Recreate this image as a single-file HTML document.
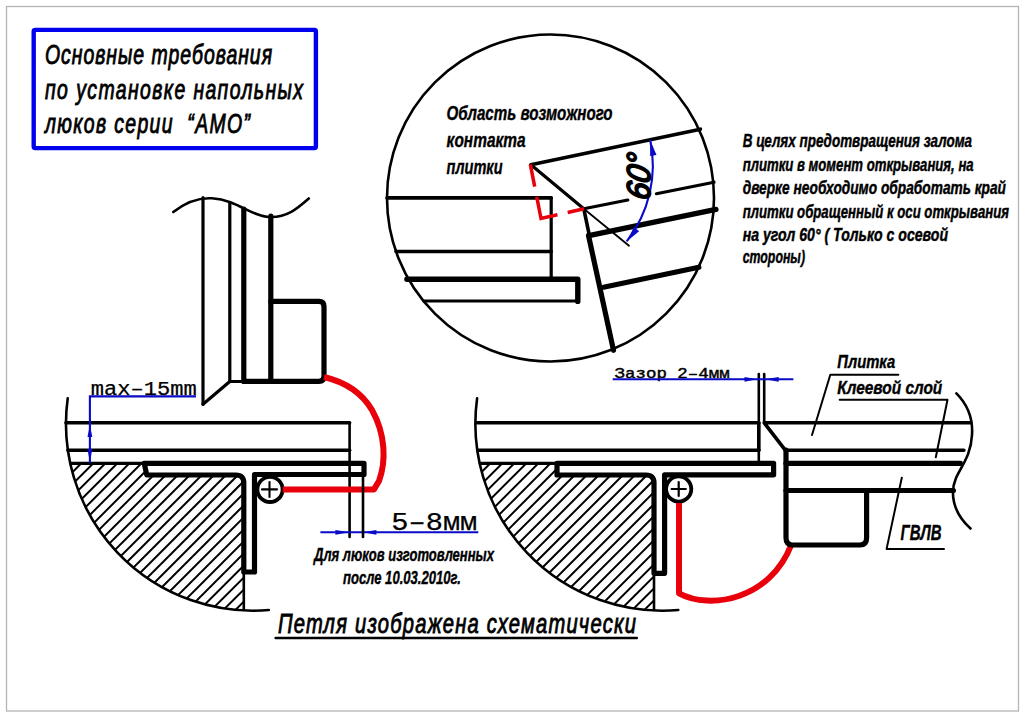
<!DOCTYPE html>
<html><head><meta charset="utf-8">
<style>
html,body{margin:0;padding:0;background:#fff;width:1024px;height:717px;overflow:hidden}
svg{display:block}
text{font-family:"Liberation Sans",sans-serif}
.k{stroke:#000;fill:none;stroke-linecap:round;stroke-linejoin:round}
.it{font-style:italic}
.b{font-weight:bold}
</style></head><body>
<svg width="1024" height="717" viewBox="0 0 1024 717">
<defs>
<clipPath id="cL"><circle cx="253" cy="423.7" r="187"/></clipPath>
<clipPath id="cL2"><path d="M40,463.3 H146.8 V475 H236 Q243.8,475 243.8,483 V640 H40 Z"/></clipPath>
<clipPath id="cR"><circle cx="662.4" cy="423.7" r="187"/></clipPath>
<clipPath id="cR2"><path d="M448,463.3 H557 V475 H646 Q654,475 654,483 V640 H448 Z"/></clipPath>
</defs>
<rect x="0" y="0" width="1024" height="717" fill="#fff"/>
<rect x="6.5" y="6.5" width="1012" height="704.5" fill="none" stroke="#b4b4b4" stroke-width="1.3"/>

<rect x="33.7" y="29.9" width="282.2" height="118.2" rx="1.5" fill="none" stroke="#0000ee" stroke-width="4.4"/>
<text class="it" transform="translate(45,63.6) scale(0.72,1)" font-size="27" stroke="#000" stroke-width="0.9" textLength="315.3" lengthAdjust="spacing" >Основные требования</text>
<text class="it" transform="translate(45,99.2) scale(0.72,1)" font-size="27" stroke="#000" stroke-width="0.9" textLength="358.3" lengthAdjust="spacing" >по установке напольных</text>
<text class="it" transform="translate(45,133.2) scale(0.72,1)" font-size="27" stroke="#000" stroke-width="0.9" textLength="284.7" lengthAdjust="spacing" >люков серии&#160; “АМО”</text>
<circle cx="550.5" cy="198" r="163.5" fill="none" stroke="#000" stroke-width="2.6"/>
<line class="k" stroke-width="3.6" x1="387" y1="197.9" x2="551.2" y2="197.9"/>
<line class="k" stroke-width="3.2" x1="551.2" y1="197.9" x2="551.2" y2="279"/>
<line class="k" stroke-width="3.6" x1="396" y1="251.5" x2="551.2" y2="251.5"/>
<path class="k" stroke-width="5.4" d="M406.9,279.3 H577.8 V301.4" />
<line class="k" stroke-width="3.2" x1="424" y1="301" x2="577.8" y2="301"/>
<line class="k" stroke-width="3.6" x1="530.9" y1="164.8" x2="700.4" y2="129.2"/>
<line class="k" stroke-width="3.2" x1="530.9" y1="164.8" x2="583.8" y2="208.8"/>
<path class="k" stroke-width="3.2" d="M583.8,208.8 L627.8,200 M656.4,193.7 L714,182.2" />
<line class="k" stroke-width="1.8" x1="583.8" y1="208.8" x2="629" y2="245.7"/>
<line class="k" stroke-width="3.6" x1="583.8" y1="208.8" x2="589.3" y2="235.2"/>
<line class="k" stroke-width="5.2" x1="588.5" y1="235.5" x2="613.5" y2="350.3"/>
<line class="k" stroke-width="5.2" x1="588.8" y1="235.6" x2="716" y2="209.4"/>
<line class="k" stroke-width="5.2" x1="603.5" y1="287.2" x2="698.8" y2="267.2"/>
<path fill="none" stroke="#e8000a" stroke-width="3.5" stroke-dasharray="22.8 10.4 38.9 10.5 17 100" d="M530.3,164.3 L541,218.5 L584,208.7"/>
<path fill="none" stroke="#0a0ac8" stroke-width="2.1" d="M650.2,140 A123.5,123.5 0 0 1 626.7,241.4"/>
<path fill="#0a0ac8" d="M650.2,140.0L656.5,154.9L650.1,156.1Z M626.7,241.4L633.9,227.0L639.1,231.2Z"/>
<text class="it" font-size="33" stroke="#000" stroke-width="1.9" transform="translate(649.5,201) rotate(-90) skewX(-10) scale(0.92,1)">60°</text>
<g class="it b" font-size="21" stroke="#000" stroke-width="0.4">
<text x="446.6" y="120.3" textLength="166" lengthAdjust="spacingAndGlyphs">Область возможного</text>
<text x="446.6" y="147" textLength="79" lengthAdjust="spacingAndGlyphs">контакта</text>
<text x="446.6" y="174" textLength="56" lengthAdjust="spacingAndGlyphs">плитки</text>
</g>
<g class="it b" font-size="18.3" stroke="#000" stroke-width="0.45">
<text x="742.7" y="146.9" textLength="229.4" lengthAdjust="spacingAndGlyphs">В целях предотвращения залома</text>
<text x="742.7" y="171" textLength="231" lengthAdjust="spacingAndGlyphs">плитки в момент открывания, на</text>
<text x="742.7" y="194.2" textLength="263.3" lengthAdjust="spacingAndGlyphs">дверке необходимо обработать край</text>
<text x="742.7" y="217.7" textLength="266.3" lengthAdjust="spacingAndGlyphs">плитки обращенный к оси открывания</text>
<text x="742.7" y="241.2" textLength="205.3" lengthAdjust="spacingAndGlyphs">на угол 60° ( Только с осевой</text>
<text x="742.7" y="263" textLength="62.3" lengthAdjust="spacingAndGlyphs">стороны)</text>
</g>

<path class="k" stroke-width="2.6" d="M173.3,212 C188,200.5 200,197.5 212,198.3 C238,200 250,216 269,217 C287,218 298,208 308.8,198.5" />
<line class="k" stroke-width="3.2" x1="203" y1="197.6" x2="203" y2="404.3"/>
<line class="k" stroke-width="3.2" x1="229.8" y1="202.5" x2="229.8" y2="381.5"/>
<line class="k" stroke-width="5.2" x1="243.8" y1="209" x2="243.8" y2="381.5"/>
<line class="k" stroke-width="5.2" x1="270.8" y1="216" x2="270.8" y2="381.3"/>
<path class="k" stroke-width="5.2" d="M270.8,301.4 H319 Q324,301.4 324,306.4 V376.3 Q324,381.3 319,381.3 H243.8" />
<path class="k" stroke-width="3.2" d="M243.8,381.5 H229.8 L203,404.3" />
<line class="k" stroke-width="3.6" x1="66" y1="422.7" x2="349.6" y2="422.7"/>
<line class="k" stroke-width="3.6" x1="68" y1="450.2" x2="349.6" y2="450.2"/>
<line class="k" stroke-width="2.6" x1="349.6" y1="422.7" x2="349.6" y2="537"/>
<line class="k" stroke-width="3.2" x1="71" y1="463.3" x2="147" y2="463.3"/>
<g clip-path="url(#cL)"><g clip-path="url(#cL2)"><g class="k" stroke-width="2.0"><path d="M40.0,-217.2L260.0,-437.2M40.0,-205.2L260.0,-425.2M40.0,-193.1L260.0,-413.1M40.0,-181.1L260.0,-401.1M40.0,-169.1L260.0,-389.1M40.0,-157.0L260.0,-377.0M40.0,-145.0L260.0,-365.0M40.0,-133.0L260.0,-353.0M40.0,-121.0L260.0,-341.0M40.0,-108.9L260.0,-328.9M40.0,-96.9L260.0,-316.9M40.0,-84.9L260.0,-304.9M40.0,-72.8L260.0,-292.8M40.0,-60.8L260.0,-280.8M40.0,-48.8L260.0,-268.8M40.0,-36.8L260.0,-256.8M40.0,-24.7L260.0,-244.7M40.0,-12.7L260.0,-232.7M40.0,-0.7L260.0,-220.7M40.0,11.4L260.0,-208.6M40.0,23.4L260.0,-196.6M40.0,35.4L260.0,-184.6M40.0,47.5L260.0,-172.5M40.0,59.5L260.0,-160.5M40.0,71.5L260.0,-148.5M40.0,83.6L260.0,-136.4M40.0,95.6L260.0,-124.4M40.0,107.6L260.0,-112.4M40.0,119.6L260.0,-100.4M40.0,131.7L260.0,-88.3M40.0,143.7L260.0,-76.3M40.0,155.7L260.0,-64.3M40.0,167.8L260.0,-52.2M40.0,179.8L260.0,-40.2M40.0,191.8L260.0,-28.2M40.0,203.9L260.0,-16.1M40.0,215.9L260.0,-4.1M40.0,227.9L260.0,7.9M40.0,239.9L260.0,19.9M40.0,252.0L260.0,32.0M40.0,264.0L260.0,44.0M40.0,276.0L260.0,56.0M40.0,288.1L260.0,68.1M40.0,300.1L260.0,80.1M40.0,312.1L260.0,92.1M40.0,324.2L260.0,104.2M40.0,336.2L260.0,116.2M40.0,348.2L260.0,128.2M40.0,360.2L260.0,140.2M40.0,372.3L260.0,152.3M40.0,384.3L260.0,164.3M40.0,396.3L260.0,176.3M40.0,408.4L260.0,188.4M40.0,420.4L260.0,200.4M40.0,432.4L260.0,212.4M40.0,444.5L260.0,224.5M40.0,456.5L260.0,236.5M40.0,468.5L260.0,248.5M40.0,480.5L260.0,260.5M40.0,492.6L260.0,272.6M40.0,504.6L260.0,284.6M40.0,516.6L260.0,296.6M40.0,528.7L260.0,308.7M40.0,540.7L260.0,320.7M40.0,552.7L260.0,332.7M40.0,564.8L260.0,344.8M40.0,576.8L260.0,356.8M40.0,588.8L260.0,368.8M40.0,600.8L260.0,380.8M40.0,612.9L260.0,392.9M40.0,624.9L260.0,404.9M40.0,636.9L260.0,416.9M40.0,649.0L260.0,429.0M40.0,661.0L260.0,441.0M40.0,673.0L260.0,453.0M40.0,685.0L260.0,465.0M40.0,697.1L260.0,477.1M40.0,709.1L260.0,489.1M40.0,721.1L260.0,501.1M40.0,733.2L260.0,513.2M40.0,745.2L260.0,525.2M40.0,757.2L260.0,537.2M40.0,769.3L260.0,549.3M40.0,781.3L260.0,561.3M40.0,793.3L260.0,573.3M40.0,805.4L260.0,585.4M40.0,817.4L260.0,597.4M40.0,829.4L260.0,609.4M40.0,841.4L260.0,621.4M40.0,853.5L260.0,633.5M40.0,865.5L260.0,645.5M40.0,877.5L260.0,657.5M40.0,889.6L260.0,669.6M40.0,901.6L260.0,681.6M40.0,913.6L260.0,693.6M40.0,925.6L260.0,705.6M40.0,937.7L260.0,717.7M40.0,949.7L260.0,729.7M40.0,961.7L260.0,741.7M40.0,973.8L260.0,753.8M40.0,985.8L260.0,765.8M40.0,997.8L260.0,777.8M40.0,1009.9L260.0,789.9M40.0,1021.9L260.0,801.9M40.0,1033.9L260.0,813.9M40.0,1046.0L260.0,826.0M40.0,1058.0L260.0,838.0M40.0,1070.0L260.0,850.0M40.0,1082.0L260.0,862.0M40.0,1094.1L260.0,874.1M40.0,1106.1L260.0,886.1M40.0,1118.1L260.0,898.1M40.0,1130.2L260.0,910.2M40.0,1142.2L260.0,922.2M40.0,1154.2L260.0,934.2M40.0,1166.2L260.0,946.2M40.0,1178.3L260.0,958.3M40.0,1190.3L260.0,970.3M40.0,1202.3L260.0,982.3M40.0,1214.4L260.0,994.4"/></g></g></g>
<path class="k" stroke-width="2.6" d="M67.7,398.4 A187,187 0 0 0 268.9,610" />
<line class="k" stroke-width="2.6" x1="243.8" y1="572" x2="243.8" y2="609"/>
<path class="k" stroke-width="5.2" d="M144.2,463.3 H364 V474.5 H254.5 V572 H243.8 V483 Q243.8,475 235.8,475 H146.8 Z" />
<circle cx="270" cy="489.4" r="12.6" fill="#fff" stroke="#000" stroke-width="3.8"/>
<path class="k" stroke-width="2.1" d="M262,489.4 H277 M269.5,482 V497" />
<path fill="none" stroke="#e8000a" stroke-width="6.0" stroke-linejoin="round" d="M282.7,489.4 H374 L379,481 C386,462 386,435 372,410 C362,393 345,382 324,377"/>
<text x="90.8" y="394.9" style="font-family:&quot;Liberation Mono&quot;,monospace" font-size="20" stroke="#000" stroke-width="0.25" textLength="106" lengthAdjust="spacingAndGlyphs">max–15mm</text>
<path fill="none" stroke="#0a0ac8" stroke-width="2.1" d="M196,396.4 H89.9 V463"/>
<path fill="#0a0ac8" d="M89.9,424.5L92.3,437.0L87.5,437.0Z M89.9,462.5L87.5,449.0L92.3,449.0Z"/>
<path fill="none" stroke="#0a0ac8" stroke-width="2.1" d="M320.4,532.3 H478.3"/>
<path fill="#0a0ac8" d="M349.6,532.3L335.4,534.7L335.4,529.9Z M363.0,532.3L376.4,529.9L376.4,534.7Z"/>
<line class="k" stroke-width="2.6" x1="363" y1="474.5" x2="363" y2="537"/>
<text x="391.3" y="530" style="font-family:&quot;Liberation Mono&quot;,monospace" font-size="25" stroke="#000" stroke-width="0.25" textLength="86" lengthAdjust="spacingAndGlyphs">5–8мм</text>
<g class="it b" font-size="17.8" stroke="#000" stroke-width="0.4">
<text x="314" y="561.2" textLength="180" lengthAdjust="spacingAndGlyphs">Для люков изготовленных</text>
<text x="343" y="583.8" textLength="118" lengthAdjust="spacingAndGlyphs">после 10.03.2010г.</text>
</g>
<line class="k" stroke-width="3.6" x1="477" y1="422.8" x2="758.8" y2="422.8"/>
<line class="k" stroke-width="3.6" x1="478" y1="450.2" x2="758.8" y2="450.2"/>
<line class="k" stroke-width="2.6" x1="758.8" y1="374" x2="758.8" y2="460.8"/>
<line class="k" stroke-width="3.6" x1="758.8" y1="422.8" x2="758.8" y2="450.2"/>
<line class="k" stroke-width="3.2" x1="480.5" y1="463.3" x2="557" y2="463.3"/>
<g clip-path="url(#cR)"><g clip-path="url(#cR2)"><g class="k" stroke-width="2.0"><path d="M448.0,-216.2L668.0,-436.2M448.0,-204.2L668.0,-424.2M448.0,-192.1L668.0,-412.1M448.0,-180.1L668.0,-400.1M448.0,-168.1L668.0,-388.1M448.0,-156.0L668.0,-376.0M448.0,-144.0L668.0,-364.0M448.0,-132.0L668.0,-352.0M448.0,-120.0L668.0,-340.0M448.0,-107.9L668.0,-327.9M448.0,-95.9L668.0,-315.9M448.0,-83.9L668.0,-303.9M448.0,-71.8L668.0,-291.8M448.0,-59.8L668.0,-279.8M448.0,-47.8L668.0,-267.8M448.0,-35.8L668.0,-255.8M448.0,-23.7L668.0,-243.7M448.0,-11.7L668.0,-231.7M448.0,0.3L668.0,-219.7M448.0,12.4L668.0,-207.6M448.0,24.4L668.0,-195.6M448.0,36.4L668.0,-183.6M448.0,48.5L668.0,-171.5M448.0,60.5L668.0,-159.5M448.0,72.5L668.0,-147.5M448.0,84.6L668.0,-135.4M448.0,96.6L668.0,-123.4M448.0,108.6L668.0,-111.4M448.0,120.6L668.0,-99.4M448.0,132.7L668.0,-87.3M448.0,144.7L668.0,-75.3M448.0,156.7L668.0,-63.3M448.0,168.8L668.0,-51.2M448.0,180.8L668.0,-39.2M448.0,192.8L668.0,-27.2M448.0,204.9L668.0,-15.1M448.0,216.9L668.0,-3.1M448.0,228.9L668.0,8.9M448.0,240.9L668.0,20.9M448.0,253.0L668.0,33.0M448.0,265.0L668.0,45.0M448.0,277.0L668.0,57.0M448.0,289.1L668.0,69.1M448.0,301.1L668.0,81.1M448.0,313.1L668.0,93.1M448.0,325.2L668.0,105.2M448.0,337.2L668.0,117.2M448.0,349.2L668.0,129.2M448.0,361.2L668.0,141.2M448.0,373.3L668.0,153.3M448.0,385.3L668.0,165.3M448.0,397.3L668.0,177.3M448.0,409.4L668.0,189.4M448.0,421.4L668.0,201.4M448.0,433.4L668.0,213.4M448.0,445.5L668.0,225.5M448.0,457.5L668.0,237.5M448.0,469.5L668.0,249.5M448.0,481.5L668.0,261.5M448.0,493.6L668.0,273.6M448.0,505.6L668.0,285.6M448.0,517.6L668.0,297.6M448.0,529.7L668.0,309.7M448.0,541.7L668.0,321.7M448.0,553.7L668.0,333.7M448.0,565.8L668.0,345.8M448.0,577.8L668.0,357.8M448.0,589.8L668.0,369.8M448.0,601.8L668.0,381.8M448.0,613.9L668.0,393.9M448.0,625.9L668.0,405.9M448.0,637.9L668.0,417.9M448.0,650.0L668.0,430.0M448.0,662.0L668.0,442.0M448.0,674.0L668.0,454.0M448.0,686.0L668.0,466.0M448.0,698.1L668.0,478.1M448.0,710.1L668.0,490.1M448.0,722.1L668.0,502.1M448.0,734.2L668.0,514.2M448.0,746.2L668.0,526.2M448.0,758.2L668.0,538.2M448.0,770.3L668.0,550.3M448.0,782.3L668.0,562.3M448.0,794.3L668.0,574.3M448.0,806.3L668.0,586.3M448.0,818.4L668.0,598.4M448.0,830.4L668.0,610.4M448.0,842.4L668.0,622.4M448.0,854.5L668.0,634.5M448.0,866.5L668.0,646.5M448.0,878.5L668.0,658.5M448.0,890.6L668.0,670.6M448.0,902.6L668.0,682.6M448.0,914.6L668.0,694.6M448.0,926.7L668.0,706.7M448.0,938.7L668.0,718.7M448.0,950.7L668.0,730.7M448.0,962.7L668.0,742.7M448.0,974.8L668.0,754.8M448.0,986.8L668.0,766.8M448.0,998.8L668.0,778.8M448.0,1010.9L668.0,790.9M448.0,1022.9L668.0,802.9M448.0,1034.9L668.0,814.9M448.0,1047.0L668.0,827.0M448.0,1059.0L668.0,839.0M448.0,1071.0L668.0,851.0M448.0,1083.0L668.0,863.0M448.0,1095.1L668.0,875.1M448.0,1107.1L668.0,887.1M448.0,1119.1L668.0,899.1M448.0,1131.2L668.0,911.2M448.0,1143.2L668.0,923.2M448.0,1155.2L668.0,935.2M448.0,1167.2L668.0,947.2M448.0,1179.3L668.0,959.3M448.0,1191.3L668.0,971.3M448.0,1203.3L668.0,983.3M448.0,1215.4L668.0,995.4"/></g></g></g>
<path class="k" stroke-width="2.6" d="M477.1,398.4 A187,187 0 0 0 678.3,610" />
<line class="k" stroke-width="2.6" x1="654" y1="573" x2="654" y2="610"/>
<path class="k" stroke-width="5.2" d="M557,463.3 H773.6 V474.8 H664.6 V573.3 H654 V483 Q654,475 646,475 H557 Z" />
<circle cx="678.7" cy="489" r="12.6" fill="#fff" stroke="#000" stroke-width="3.8"/>
<path class="k" stroke-width="2.2" d="M671.6,489 H685.8 M678.7,482 V496" />
<path fill="none" stroke="#e8000a" stroke-width="6.0" stroke-linejoin="round" d="M679,503 V593.3 C710,610 770,600 791.4,544.5"/>
<line class="k" stroke-width="2.6" x1="764.2" y1="374" x2="764.2" y2="422.8"/>
<path class="k" stroke-width="3.6" d="M970.9,422.8 H764.2 L785.3,450.2 H963.9" />
<path class="k" stroke-width="5.2" d="M786,450.2 V537.7 Q786,545 793,545 H860 Q866.6,545 866.6,538 V490.5" />
<line class="k" stroke-width="5.2" x1="786" y1="463.3" x2="960.4" y2="463.3"/>
<line class="k" stroke-width="5.2" x1="786" y1="490.5" x2="953.4" y2="490.5"/>
<path class="k" stroke-width="2.6" d="M956.4,393.4 C968,405 973,420 972,435 C971,455 962,465 956,478 C950,492 952,512 970.5,528.5" />
<path class="k" stroke-width="2.0" d="M812,435 L830.3,374.7 H898.3" />
<path class="k" stroke-width="2.0" d="M935.8,457.2 L947.5,399.8 H839.7" />
<path class="k" stroke-width="2.0" d="M901.8,477.7 L886.6,548.9 H944" />
<text x="614.6" y="377.7" style="font-family:&quot;Liberation Mono&quot;,monospace" font-size="15.5" stroke="#000" stroke-width="0.45" textLength="115" lengthAdjust="spacingAndGlyphs">Зазор 2–4мм</text>
<path fill="none" stroke="#0a0ac8" stroke-width="2.1" d="M612.7,379.3 H793.4"/>
<path fill="#0a0ac8" d="M757.2,379.3L744.5,381.7L744.5,376.9Z M765.0,379.3L778.7,376.9L778.7,381.7Z"/>
<g class="it b" stroke="#000" stroke-width="0.4">
<text x="837.3" y="367.7" font-size="18.9" textLength="58" lengthAdjust="spacingAndGlyphs">Плитка</text>
<text x="837.3" y="394.4" font-size="18.9" textLength="105" lengthAdjust="spacingAndGlyphs">Клеевой слой</text>
<text x="900.6" y="540.2" font-size="21.8" textLength="41" lengthAdjust="spacingAndGlyphs">ГВЛВ</text>
</g>
<text class="it" transform="translate(278,632.5) scale(0.72,1)" font-size="28" stroke="#000" stroke-width="0.9" textLength="497.2" lengthAdjust="spacing" >Петля изображена схематически</text>
<line class="k" stroke-width="2.5" x1="275.6" y1="638" x2="636.8" y2="638"/>
</svg>
</body></html>
